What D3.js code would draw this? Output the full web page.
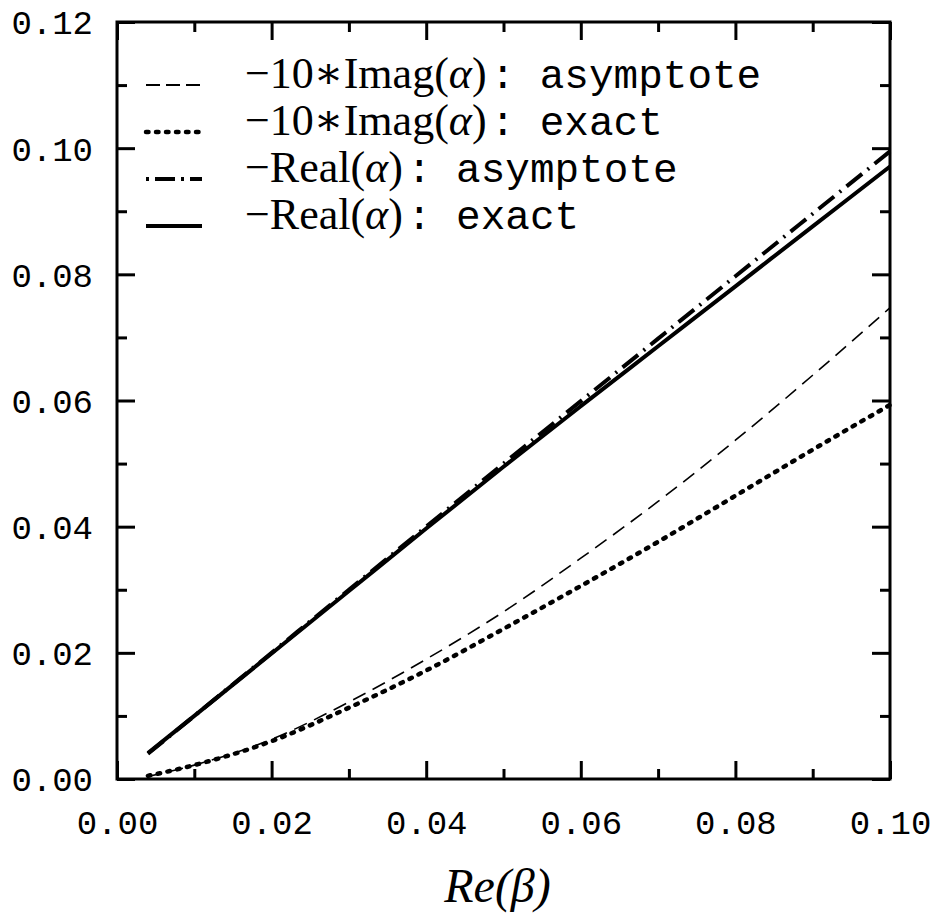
<!DOCTYPE html>
<html>
<head>
<meta charset="utf-8">
<script src="https://cdn.jsdelivr.net/npm/d3@7"></script>
<style>
  html, body { margin: 0; padding: 0; background: #fff; }
  svg { display: block; }
</style>
</head>
<body>
<svg id="chart" width="937" height="920"></svg>
<script>
// Re(beta) sample points and the four curves
const beta       = [0.004, 0.01, 0.02, 0.03, 0.04, 0.05, 0.06, 0.07, 0.08, 0.09, 0.10];
const imagAsym   = [0.0004, 0.0022, 0.0063, 0.0122, 0.0190, 0.0265, 0.0350, 0.0440, 0.0537, 0.0640, 0.0747];
const imagExact  = [0.0005, 0.0022, 0.0060, 0.0113, 0.0172, 0.0238, 0.0306, 0.0376, 0.0449, 0.0522, 0.0593];
const realAsym   = [0.0040, 0.0100, 0.0200, 0.0300, 0.0400, 0.0500, 0.0599, 0.0698, 0.0797, 0.0896, 0.0995];
const realExact  = [0.0041, 0.0100, 0.0199, 0.0298, 0.0397, 0.0495, 0.0591, 0.0686, 0.0781, 0.0876, 0.0971];

const xMajor = [0, 0.02, 0.04, 0.06, 0.08, 0.10];
const xMinor = [0.01, 0.03, 0.05, 0.07, 0.09];
const yMajor = [0, 0.02, 0.04, 0.06, 0.08, 0.10, 0.12];
const yMinor = [0.01, 0.03, 0.05, 0.07, 0.09, 0.11];

const legendPrefix = ["−10∗Imag", "−10∗Imag", "−Real", "−Real"];
const legendKind   = ["asymptote", "exact", "asymptote", "exact"];

const svg = d3.select("#chart");
const L = 117, R = 890, T = 22, B = 779;

const x = d3.scaleLinear().domain([0, 0.10]).range([L, R]);
const y = d3.scaleLinear().domain([0, 0.12]).range([B, T]);

const monoFont = "'Liberation Mono', 'DejaVu Sans Mono', monospace";
const serifFont = "'Liberation Serif', 'DejaVu Serif', serif";

// line styles for the four curves (plot stroke, legend sample stroke)
const styles = [
  { values: imagAsym,  width: 1.6, dash: "14,8",      cap: "butt",  keyWidth: 2, keyDash: "14,6" },
  { values: imagExact, width: 4.5, dash: "2.5,7.5",   cap: "round", keyWidth: 4.5, keyDash: "2.5,7.5" },
  { values: realAsym,  width: 4,   dash: "20,7,2,7",  cap: "butt",  keyWidth: 4, keyDash: "3,6,20,6" },
  { values: realExact, width: 4,   dash: null,        cap: "butt",  keyWidth: 4, keyDash: null }
];

const line = d3.line()
  .x(d => x(d[0]))
  .y(d => y(d[1]))
  .curve(d3.curveMonotoneX);

const curves = svg.append("g");
styles.forEach(s => {
  curves.append("path")
    .datum(beta.map((b, i) => [b, s.values[i]]))
    .attr("d", line)
    .attr("fill", "none")
    .attr("stroke", "#000")
    .attr("stroke-width", s.width)
    .attr("stroke-linecap", s.cap)
    .attr("stroke-dasharray", s.dash);
});

// axes: ticks point inward on all four sides
const fmt = d3.format(".2f");
function tickAxis(axisFn, scale, major, minor, transform, labels) {
  const gMaj = svg.append("g").attr("transform", transform)
    .call(axisFn(scale).tickValues(major).tickSizeInner(-18).tickSizeOuter(0)
      .tickPadding(labels ? 24 : 0).tickFormat(labels ? fmt : ""));
  const gMin = svg.append("g").attr("transform", transform)
    .call(axisFn(scale).tickValues(minor).tickSizeInner(-10).tickSizeOuter(0).tickFormat(""));
  [gMaj, gMin].forEach(g => {
    g.select(".domain").remove();
    g.selectAll(".tick line").attr("stroke", "#000").attr("stroke-width", 3);
  });
  gMaj.selectAll(".tick text")
    .attr("font-family", monoFont)
    .attr("font-size", 34)
    .attr("fill", "#000");
  return gMaj;
}

const gx = tickAxis(d3.axisBottom, x, xMajor, xMinor, `translate(0,${B})`, true);
gx.selectAll(".tick text").attr("dy", "0.9em");
tickAxis(d3.axisTop, x, xMajor, xMinor, `translate(0,${T})`, false);
const gy = tickAxis(d3.axisLeft, y, yMajor, yMinor, `translate(${L},0)`, true);
gy.selectAll(".tick text").attr("dy", "0.35em");
tickAxis(d3.axisRight, y, yMajor, yMinor, `translate(${R},0)`, false);

// frame
svg.append("rect")
  .attr("x", L).attr("y", T)
  .attr("width", R - L).attr("height", B - T)
  .attr("fill", "none").attr("stroke", "#000").attr("stroke-width", 3);

// x-axis title
svg.append("text")
  .attr("x", (L + R) / 2 - 6).attr("y", 902)
  .attr("text-anchor", "middle")
  .attr("font-family", serifFont)
  .attr("font-size", 48)
  .attr("font-style", "italic")
  .text("Re(β)");

// legend
const legend = svg.append("g");
legendPrefix.forEach((p, i) => {
  const by = 88 + i * 47;
  const s = styles[i];
  legend.append("line")
    .attr("x1", 146).attr("x2", 202)
    .attr("y1", by - 3).attr("y2", by - 3)
    .attr("stroke", "#000")
    .attr("stroke-width", s.keyWidth)
    .attr("stroke-linecap", s.cap)
    .attr("stroke-dasharray", s.keyDash);
  const t = legend.append("text")
    .attr("x", 245).attr("y", by)
    .attr("fill", "#000");
  t.append("tspan").attr("font-family", serifFont).attr("font-size", 44).text(p + "(");
  t.append("tspan").attr("font-family", serifFont).attr("font-size", 44).attr("font-style", "italic").text("α");
  t.append("tspan").attr("font-family", serifFont).attr("font-size", 44).text(")");
  t.append("tspan").attr("font-family", monoFont).attr("font-size", 41).attr("dx", 4)
    .attr("xml:space", "preserve").text(": " + legendKind[i]);
});
</script>
</body>
</html>
